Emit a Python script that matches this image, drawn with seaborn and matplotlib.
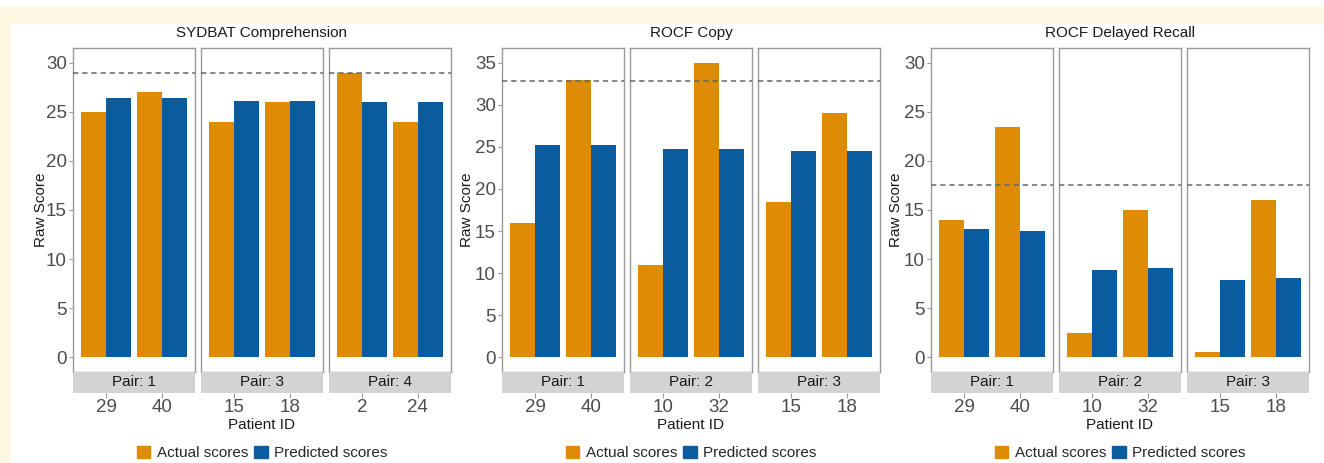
import matplotlib
matplotlib.use("Agg")
import matplotlib.pyplot as plt
import matplotlib.patches as mpatches
import seaborn as sns
import pandas as pd

# values
test_names = ["SYDBAT Comprehension", "ROCF Copy", "ROCF Delayed Recall"]

sydbat_pairs = [1, 1, 3, 3, 4, 4]
sydbat_patients = ["29", "40", "15", "18", "2", "24"]
sydbat_actual = [25, 27, 24, 26, 29, 24]
sydbat_predicted = [26.4, 26.4, 26.1, 26.1, 26.0, 25.95]
sydbat_cutoff = 29

rocf_copy_pairs = [1, 1, 2, 2, 3, 3]
rocf_copy_patients = ["29", "40", "10", "32", "15", "18"]
rocf_copy_actual = [16, 33, 11, 35, 18.5, 29]
rocf_copy_predicted = [25.2, 25.2, 24.7, 24.7, 24.5, 24.55]
rocf_copy_cutoff = 32.8

rocf_recall_pairs = [1, 1, 2, 2, 3, 3]
rocf_recall_patients = ["29", "40", "10", "32", "15", "18"]
rocf_recall_actual = [14, 23.5, 2.5, 15, 0.5, 16]
rocf_recall_predicted = [13.05, 12.9, 8.9, 9.1, 7.9, 8.1]
rocf_recall_cutoff = 17.5

y_max = [30, 35, 30]

score_types = ["Actual scores", "Predicted scores"]
palette = {"Actual scores": "#DE8C05", "Predicted scores": "#0B5C9F"}


def make_frame(test, pairs, patients, actual, predicted):
    df = pd.DataFrame({"Test": test, "Pair": pairs, "Patient": patients,
                       "Actual scores": actual, "Predicted scores": predicted})
    return df.melt(id_vars=["Test", "Pair", "Patient"], value_vars=score_types,
                   var_name="Type", value_name="Score")


data = pd.concat([
    make_frame(test_names[0], sydbat_pairs, sydbat_patients, sydbat_actual, sydbat_predicted),
    make_frame(test_names[1], rocf_copy_pairs, rocf_copy_patients, rocf_copy_actual, rocf_copy_predicted),
    make_frame(test_names[2], rocf_recall_pairs, rocf_recall_patients, rocf_recall_actual, rocf_recall_predicted),
], ignore_index=True)
cutoffs = [sydbat_cutoff, rocf_copy_cutoff, rocf_recall_cutoff]

sns.set_theme(style="white")
plt.rcParams["font.family"] = ["Liberation Sans", "DejaVu Sans"]

W, H = 1324, 463
fig = plt.figure(figsize=(W / 100, H / 100), dpi=100)
fig.patch.set_facecolor("white")

# cream page border (top band + left band)
cream = "#FEF8E2"
fig.patches.append(mpatches.Rectangle((0, 1 - 23 / H), 1, 16 / H, transform=fig.transFigure,
                                      color=cream, zorder=-10))
fig.patches.append(mpatches.Rectangle((0, 0), 9 / W, 1 - 7 / H, transform=fig.transFigure,
                                      color=cream, zorder=-10))

panel_left = [73, 502, 931]
facet_w = 122
facet_gap = 6
top_px, bot_px = 48, 372
strip_h = 21
ylabel_x = [48, 474, 903]
border = "#999999"
tick_col = "#4D4D4D"
tick_size = 13.5


def fx(px):
    return px / W


def fy(px):
    return 1 - px / H


for ti, test in enumerate(test_names):
    sub_test = data[data["Test"] == test]
    pairs = list(dict.fromkeys(sub_test["Pair"]))
    ymax = y_max[ti]
    for pi, pair in enumerate(pairs):
        sub = sub_test[sub_test["Pair"] == pair]
        order = list(dict.fromkeys(sub["Patient"]))
        left = panel_left[ti] + pi * (facet_w + facet_gap)
        ax = fig.add_axes([fx(left), fy(bot_px), facet_w / W, (bot_px - top_px) / H])
        sns.barplot(data=sub, x="Patient", y="Score", hue="Type", order=order,
                    hue_order=score_types, palette=palette, width=0.9, saturation=1,
                    linewidth=0, errorbar=None, legend=False, ax=ax)
        ax.axhline(cutoffs[ti], color="#666666", lw=1.1, linestyle=(0, (3.5, 2.5)), zorder=5)
        ax.set_xlim(-0.6, 1.6)
        ax.set_ylim(-ymax * 0.05, ymax * 1.05)
        ax.set_xticks([])
        ax.set_xlabel("")
        for sp in ax.spines.values():
            sp.set_visible(True)
            sp.set_color(border)
            sp.set_linewidth(1)
        if pi == 0:
            ax.set_yticks(range(0, ymax + 1, 5))
            ax.tick_params(axis="y", left=True, length=3, width=0.8, color=border,
                           pad=1.5, labelsize=tick_size, labelcolor=tick_col)
            ax.set_ylabel("Raw Score", fontsize=11, color="#1A1A1A")
            ax.yaxis.set_label_coords((ylabel_x[ti] - left) / facet_w, 0.5)
        else:
            ax.set_yticks([])
            ax.set_ylabel("")

        # strip below the panel, carrying the patient tick labels
        sax = fig.add_axes([fx(left), fy(bot_px + strip_h), facet_w / W, strip_h / H])
        sax.set_facecolor("#D3D3D3")
        for sp in sax.spines.values():
            sp.set_visible(False)
        sax.set_xlim(-0.6, 1.6)
        sax.set_ylim(0, 1)
        sax.set_yticks([])
        sax.set_xticks(range(len(order)))
        sax.set_xticklabels(order)
        sax.tick_params(axis="x", bottom=True, length=3.5, width=0.8, color=border,
                        pad=0.5, labelsize=tick_size, labelcolor=tick_col)
        sax.text(0.5, 0.5, f"Pair: {pair}", transform=sax.transAxes, ha="center",
                 va="center", fontsize=11, color="#1A1A1A")

    n = len(pairs)
    cx = panel_left[ti] + (n * facet_w + (n - 1) * facet_gap) / 2
    fig.text(fx(cx), fy(33), test, ha="center", va="center", fontsize=11, color="#1A1A1A")
    fig.text(fx(cx), fy(425), "Patient ID", ha="center", va="center", fontsize=11,
             color="#1A1A1A")
    handles = [mpatches.Patch(color=palette[t], label=t) for t in score_types]
    fig.legend(handles=handles, loc="center", bbox_to_anchor=(fx(cx), fy(453)), ncol=2,
               frameon=False, fontsize=11, handlelength=0.9, handleheight=0.9,
               handletextpad=0.4, columnspacing=0.4, borderaxespad=0, borderpad=0)

fig.savefig("out.png", dpi=100)
